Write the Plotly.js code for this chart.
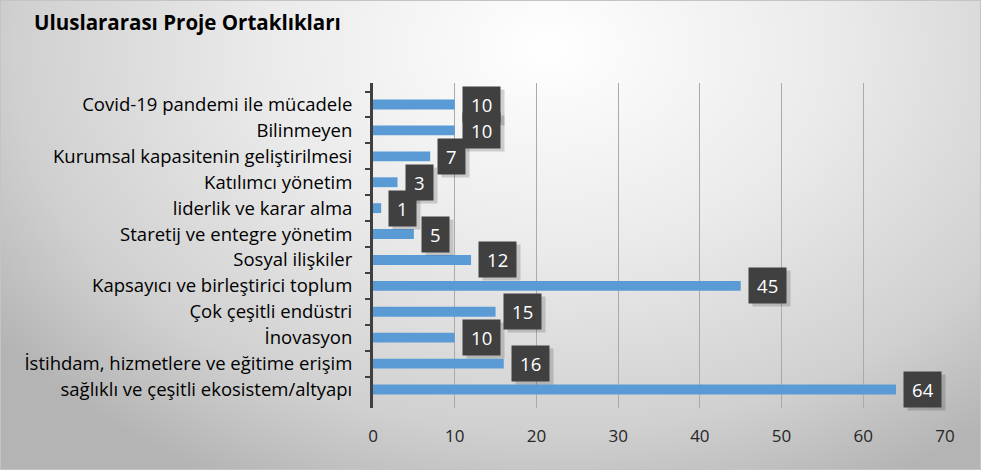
<!DOCTYPE html>
<html>
<head>
<meta charset="utf-8">
<script src="https://cdn.plot.ly/plotly-3.0.1.min.js"></script>
<style>
  html, body { margin: 0; padding: 0; }
  #wrap {
    width: 979px; height: 468px;
    border: 1px solid #c4c4c4;
    background: radial-gradient(ellipse 70% 105% at 56% 10%, #ffffff 0%, #eaeaea 42%, #d0d0d0 78%, #b4b4b4 100%);
  }
  #myDiv { width: 979px; height: 468px; }
</style>
</head>
<body>
<div id="wrap"><div id="myDiv"></div></div>
<script>
// categories top to bottom as in the picture
const categories = [
  "Covid-19 pandemi ile mücadele",
  "Bilinmeyen",
  "Kurumsal kapasitenin geliştirilmesi",
  "Katılımcı yönetim",
  "liderlik ve karar alma",
  "Staretij ve entegre yönetim",
  "Sosyal ilişkiler",
  "Kapsayıcı ve birleştirici toplum",
  "Çok çeşitli endüstri",
  "İnovasyon",
  "İstihdam, hizmetlere ve eğitime erişim",
  "sağlıklı ve çeşitli ekosistem/altyapı"
];
const counts = [10, 10, 7, 3, 1, 5, 12, 45, 15, 10, 16, 64];
const xTicks = [0, 10, 20, 30, 40, 50, 60, 70];

const font = "'Open Sans', sans-serif";
const pad = '&#8201;';

const trace = {
  type: 'bar',
  orientation: 'h',
  x: counts,
  y: categories,
  marker: { color: '#5b9bd5' },
  hoverinfo: 'x+y'
};

// label boxes, with a flat offset shadow underneath
const shadows = counts.map((v, i) => ({
  x: v, y: categories[i], xref: 'x', yref: 'y',
  text: pad + v + pad, showarrow: false,
  xanchor: 'left', xshift: 11, yshift: -3,
  font: { family: font, size: 18.5, color: 'rgba(0,0,0,0)' },
  bgcolor: 'rgba(0,0,0,0.16)', borderpad: 5
}));
const labels = counts.map((v, i) => ({
  x: v, y: categories[i], xref: 'x', yref: 'y',
  text: pad + v + pad, showarrow: false,
  xanchor: 'left', xshift: 7,
  font: { family: font, size: 18.5, color: '#ffffff' },
  bgcolor: '#404040', borderpad: 5
}));

const layout = {
  width: 979, height: 468,
  paper_bgcolor: 'rgba(0,0,0,0)',
  plot_bgcolor: 'rgba(0,0,0,0)',
  margin: { l: 372, r: 35, t: 82, b: 61, pad: 0 },
  title: {
    text: '<b>Uluslararası Proje Ortaklıkları</b>',
    xref: 'container', yref: 'container',
    x: 33 / 979, xanchor: 'left',
    y: 1 - 22 / 468, yanchor: 'middle',
    font: { family: font, size: 20.5, color: '#000000' }
  },
  bargap: 0.62,
  showlegend: false,
  xaxis: {
    range: [0, 70],
    tickvals: xTicks,
    ticktext: xTicks.map(String),
    showgrid: true, gridcolor: '#aaaaaa', gridwidth: 1,
    zeroline: false, showline: false,
    ticks: '', ticklen: 0,
    ticklabelstandoff: 16,
    tickfont: { family: font, size: 17, color: '#262626' },
    automargin: false
  },
  yaxis: {
    type: 'category',
    autorange: 'reversed',
    showline: true, linecolor: '#404040', linewidth: 3,
    ticks: 'outside', tickson: 'boundaries', ticklen: 5, tickwidth: 2, tickcolor: '#404040',
    showgrid: false,
    tickfont: { family: font, size: 18.5, color: '#000000' },
    ticklabelstandoff: 14,
    automargin: false
  },
  annotations: shadows.concat(labels)
};

Plotly.newPlot('myDiv', [trace], layout, { displayModeBar: false, staticPlot: true });
</script>
</body>
</html>
